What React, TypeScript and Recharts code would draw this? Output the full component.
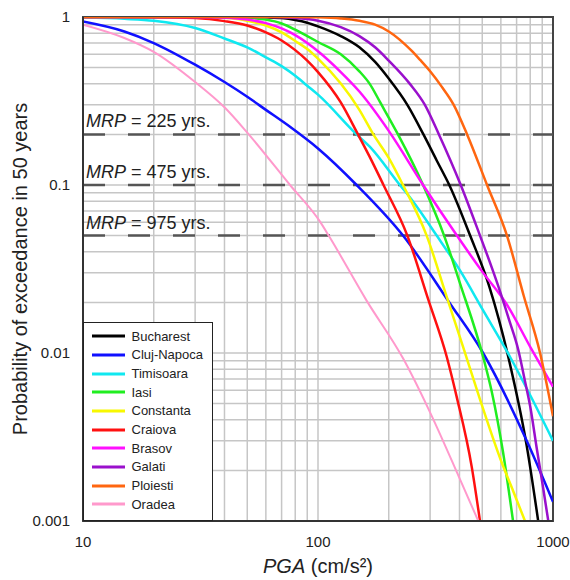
import {
  LineChart,
  Line,
  XAxis,
  YAxis,
  CartesianGrid,
  ReferenceLine,
  ReferenceArea,
  Legend,
} from "recharts";

// hazard curves: [PGA (cm/s2), probability of exceedance in 50 years]
const bucharest = [
  [10, 1], [50, 0.999], [60, 0.995], [70, 0.985], [80, 0.96], [90, 0.925], [100, 0.88],
  [125, 0.77], [150, 0.66], [175, 0.54], [200, 0.43], [240, 0.3], [281, 0.2], [320, 0.14],
  [362, 0.1], [444, 0.05], [535, 0.025], [645, 0.0095], [773, 0.0028], [865, 0.001],
];
const clujNapoca = [
  [10, 0.94], [15, 0.82], [20, 0.7], [30, 0.52], [40, 0.41], [50, 0.335], [60, 0.28],
  [76, 0.222], [100, 0.165], [146, 0.1], [230, 0.05], [362, 0.02], [504, 0.01],
  [773, 0.003], [1000, 0.0013],
];
const timisoara = [
  [10, 0.995], [15, 0.975], [20, 0.95], [30, 0.86], [40, 0.745], [50, 0.66], [60, 0.575],
  [70, 0.51], [80, 0.447], [90, 0.39], [100, 0.345], [146, 0.2], [166, 0.169], [223, 0.1],
  [251, 0.0815], [320, 0.05], [402, 0.031], [500, 0.0183], [656, 0.0095], [800, 0.0056],
  [1000, 0.003],
];
const iasi = [
  [10, 1], [40, 0.999], [50, 0.99], [60, 0.965], [70, 0.915], [80, 0.84], [90, 0.77],
  [100, 0.71], [125, 0.6], [150, 0.475], [166, 0.4], [184, 0.31], [219, 0.2], [280, 0.1],
  [344, 0.05], [402, 0.026], [504, 0.0095], [550, 0.0058], [612, 0.0026], [676, 0.001],
];
const constanta = [
  [10, 1], [30, 0.999], [40, 0.99], [50, 0.95], [60, 0.89], [70, 0.81], [80, 0.72],
  [90, 0.645], [100, 0.565], [150, 0.28], [172, 0.2], [200, 0.145], [230, 0.1], [290, 0.05],
  [353, 0.0216], [415, 0.0108], [489, 0.0053], [600, 0.0023], [678, 0.0015], [760, 0.001],
];
const craiova = [
  [10, 1], [20, 0.998], [30, 0.985], [40, 0.945], [50, 0.89], [60, 0.81], [70, 0.725],
  [80, 0.635], [90, 0.55], [100, 0.47], [125, 0.31], [148, 0.2], [166, 0.147], [190, 0.1],
  [240, 0.05], [294, 0.021], [353, 0.0095], [389, 0.0055], [451, 0.0021], [489, 0.001],
];
const brasov = [
  [10, 1], [30, 0.999], [40, 0.99], [50, 0.965], [60, 0.92], [70, 0.855], [80, 0.78],
  [90, 0.7], [100, 0.625], [125, 0.47], [150, 0.36], [200, 0.21], [280, 0.1], [390, 0.05],
  [500, 0.0305], [635, 0.0195], [811, 0.0105], [1000, 0.0063],
];
const galati = [
  [10, 1], [60, 0.999], [70, 0.996], [80, 0.988], [90, 0.972], [100, 0.95], [125, 0.87],
  [150, 0.77], [175, 0.66], [200, 0.55], [246, 0.4], [285, 0.3], [327, 0.2], [405, 0.1],
  [489, 0.05], [550, 0.032], [600, 0.0225], [650, 0.0158], [711, 0.0105], [760, 0.0068],
  [800, 0.0048], [853, 0.0027], [900, 0.0017], [955, 0.001],
];
const ploiesti = [
  [10, 1], [80, 0.999], [100, 0.995], [125, 0.98], [150, 0.95], [175, 0.9], [200, 0.82],
  [250, 0.63], [272, 0.555], [300, 0.475], [336, 0.385], [378, 0.3], [431, 0.2], [524, 0.1],
  [637, 0.05], [750, 0.022], [881, 0.01], [1000, 0.0042],
];
const oradea = [
  [10, 0.9], [15, 0.75], [20, 0.62], [30, 0.41], [40, 0.29], [50, 0.205], [76, 0.1],
  [102, 0.0605], [112, 0.049], [161, 0.0205], [231, 0.0092], [294, 0.0047], [400, 0.0018],
  [481, 0.001],
];

const cities = [
  { name: "Bucharest", color: "#000000", points: bucharest },
  { name: "Cluj-Napoca", color: "#1010ff", points: clujNapoca },
  { name: "Timisoara", color: "#10e8f0", points: timisoara },
  { name: "Iasi", color: "#20ee20", points: iasi },
  { name: "Constanta", color: "#f8f800", points: constanta },
  { name: "Craiova", color: "#ff1010", points: craiova },
  { name: "Brasov", color: "#ff10ff", points: brasov },
  { name: "Galati", color: "#9a10cc", points: galati },
  { name: "Ploiesti", color: "#ff6610", points: ploiesti },
  { name: "Oradea", color: "#ff99cc", points: oradea },
];

// mean return periods and their probabilities in 50 years
const mrpYears = [225, 475, 975];
const mrpProb = [0.2, 0.1, 0.05];

const xTicks = [10, 20, 30, 40, 50, 60, 70, 80, 90, 100, 200, 300, 400, 500, 600, 700, 800, 900, 1000];
const xLabels = [10, 100, 1000];
const yTicks = [
  0.001, 0.002, 0.003, 0.004, 0.005, 0.006, 0.007, 0.008, 0.009,
  0.01, 0.02, 0.03, 0.04, 0.05, 0.06, 0.07, 0.08, 0.09,
  0.1, 0.2, 0.3, 0.4, 0.5, 0.6, 0.7, 0.8, 0.9, 1,
];
const yLabels = [0.001, 0.01, 0.1, 1];

const FONT = "'Liberation Sans', Arial, sans-serif";

function LegendBox(props: any) {
  const order = cities.map((c) => c.name);
  const items = [...(props.payload || [])].sort(
    (a: any, b: any) => order.indexOf(a.value) - order.indexOf(b.value)
  );
  return (
    <div
      style={{
        width: 130,
        height: 199,
        border: "1.5px solid #222",
        background: "#fff",
        boxSizing: "border-box",
        paddingTop: 4,
        fontFamily: FONT,
      }}
    >
      {items.map((e: any) => (
        <div key={e.value} style={{ display: "flex", alignItems: "center", height: 18.67 }}>
          <svg width={33} height={4} style={{ marginLeft: 7.5 }}>
            <line x1={0} y1={2} x2={33} y2={2} stroke={e.color} strokeWidth={3} />
          </svg>
          <span style={{ marginLeft: 7, fontSize: 13, color: "#222" }}>{e.value}</span>
        </div>
      ))}
    </div>
  );
}

export default function App() {
  return (
    <div style={{ position: "absolute", left: 0, top: 0, fontFamily: FONT }}>
      <LineChart width={570} height={580} margin={{ top: 17, right: 17, left: 8, bottom: 29 }}>
        <CartesianGrid stroke="#c6c6c6" strokeWidth={1.5} />
        <XAxis
          dataKey="pga"
          type="number"
          scale="log"
          domain={[10, 1000]}
          allowDataOverflow
          ticks={xTicks}
          interval={0}
          height={30}
          tickLine={false}
          tickSize={6}
          tickMargin={9}
          axisLine={{ stroke: "#333", strokeWidth: 2 }}
          tick={{ fontSize: 15, fill: "#222", fontFamily: FONT }}
          tickFormatter={(v: number) => (xLabels.includes(v) ? String(v) : "")}
          label={{
            content: () => (
              <text x={318} y={573} textAnchor="middle" fontSize={20} fill="#222" fontFamily={FONT}>
                <tspan fontStyle="italic">PGA</tspan> (cm/s²)
              </text>
            ),
          }}
        />
        <YAxis
          type="number"
          scale="log"
          domain={[0.001, 1]}
          allowDataOverflow
          ticks={yTicks}
          interval={0}
          width={75}
          tickLine={false}
          tickSize={6}
          tickMargin={7}
          axisLine={{ stroke: "#333", strokeWidth: 2 }}
          tick={{ fontSize: 15, fill: "#222", fontFamily: FONT }}
          tickFormatter={(v: number) => (yLabels.includes(v) ? String(v) : "")}
          label={{
            content: () => (
              <text
                x={0}
                y={0}
                transform="translate(27,269) rotate(-90)"
                textAnchor="middle"
                fontSize={20}
                fill="#222"
                fontFamily={FONT}
              >
                Probability of exceedance in 50 years
              </text>
            ),
          }}
        />
        {mrpProb.map((p, i) => (
          <ReferenceLine
            key={p}
            y={p}
            stroke="#555"
            strokeWidth={2.5}
            strokeDasharray="22 23"
            label={{
              content: (lp: any) => (
                <text
                  x={lp.viewBox.x + 3}
                  y={lp.viewBox.y - 7}
                  fontSize={18}
                  fill="#222"
                  fontFamily={FONT}
                >
                  <tspan fontStyle="italic">MRP</tspan> = {mrpYears[i]} yrs.
                </text>
              ),
            }}
          />
        ))}
        {cities.map((c) => (
          <Line
            key={c.name}
            name={c.name}
            data={c.points.map(([pga, p]) => ({ pga, p }))}
            dataKey="p"
            type="monotone"
            stroke={c.color}
            strokeWidth={c.name === "Oradea" ? 2 : 2.5}
            dot={false}
            isAnimationActive={false}
          />
        ))}
        <ReferenceArea
          x1={10}
          x2={1000}
          y1={0.001}
          y2={1}
          fill="none"
          stroke="#444"
          strokeWidth={2}
          ifOverflow="visible"
        />
        <Legend
          layout="horizontal"
          verticalAlign="middle"
          align="center"
          content={<LegendBox />}
          wrapperStyle={{ left: 83, top: 322, width: 130, height: 199 }}
        />
      </LineChart>
    </div>
  );
}
